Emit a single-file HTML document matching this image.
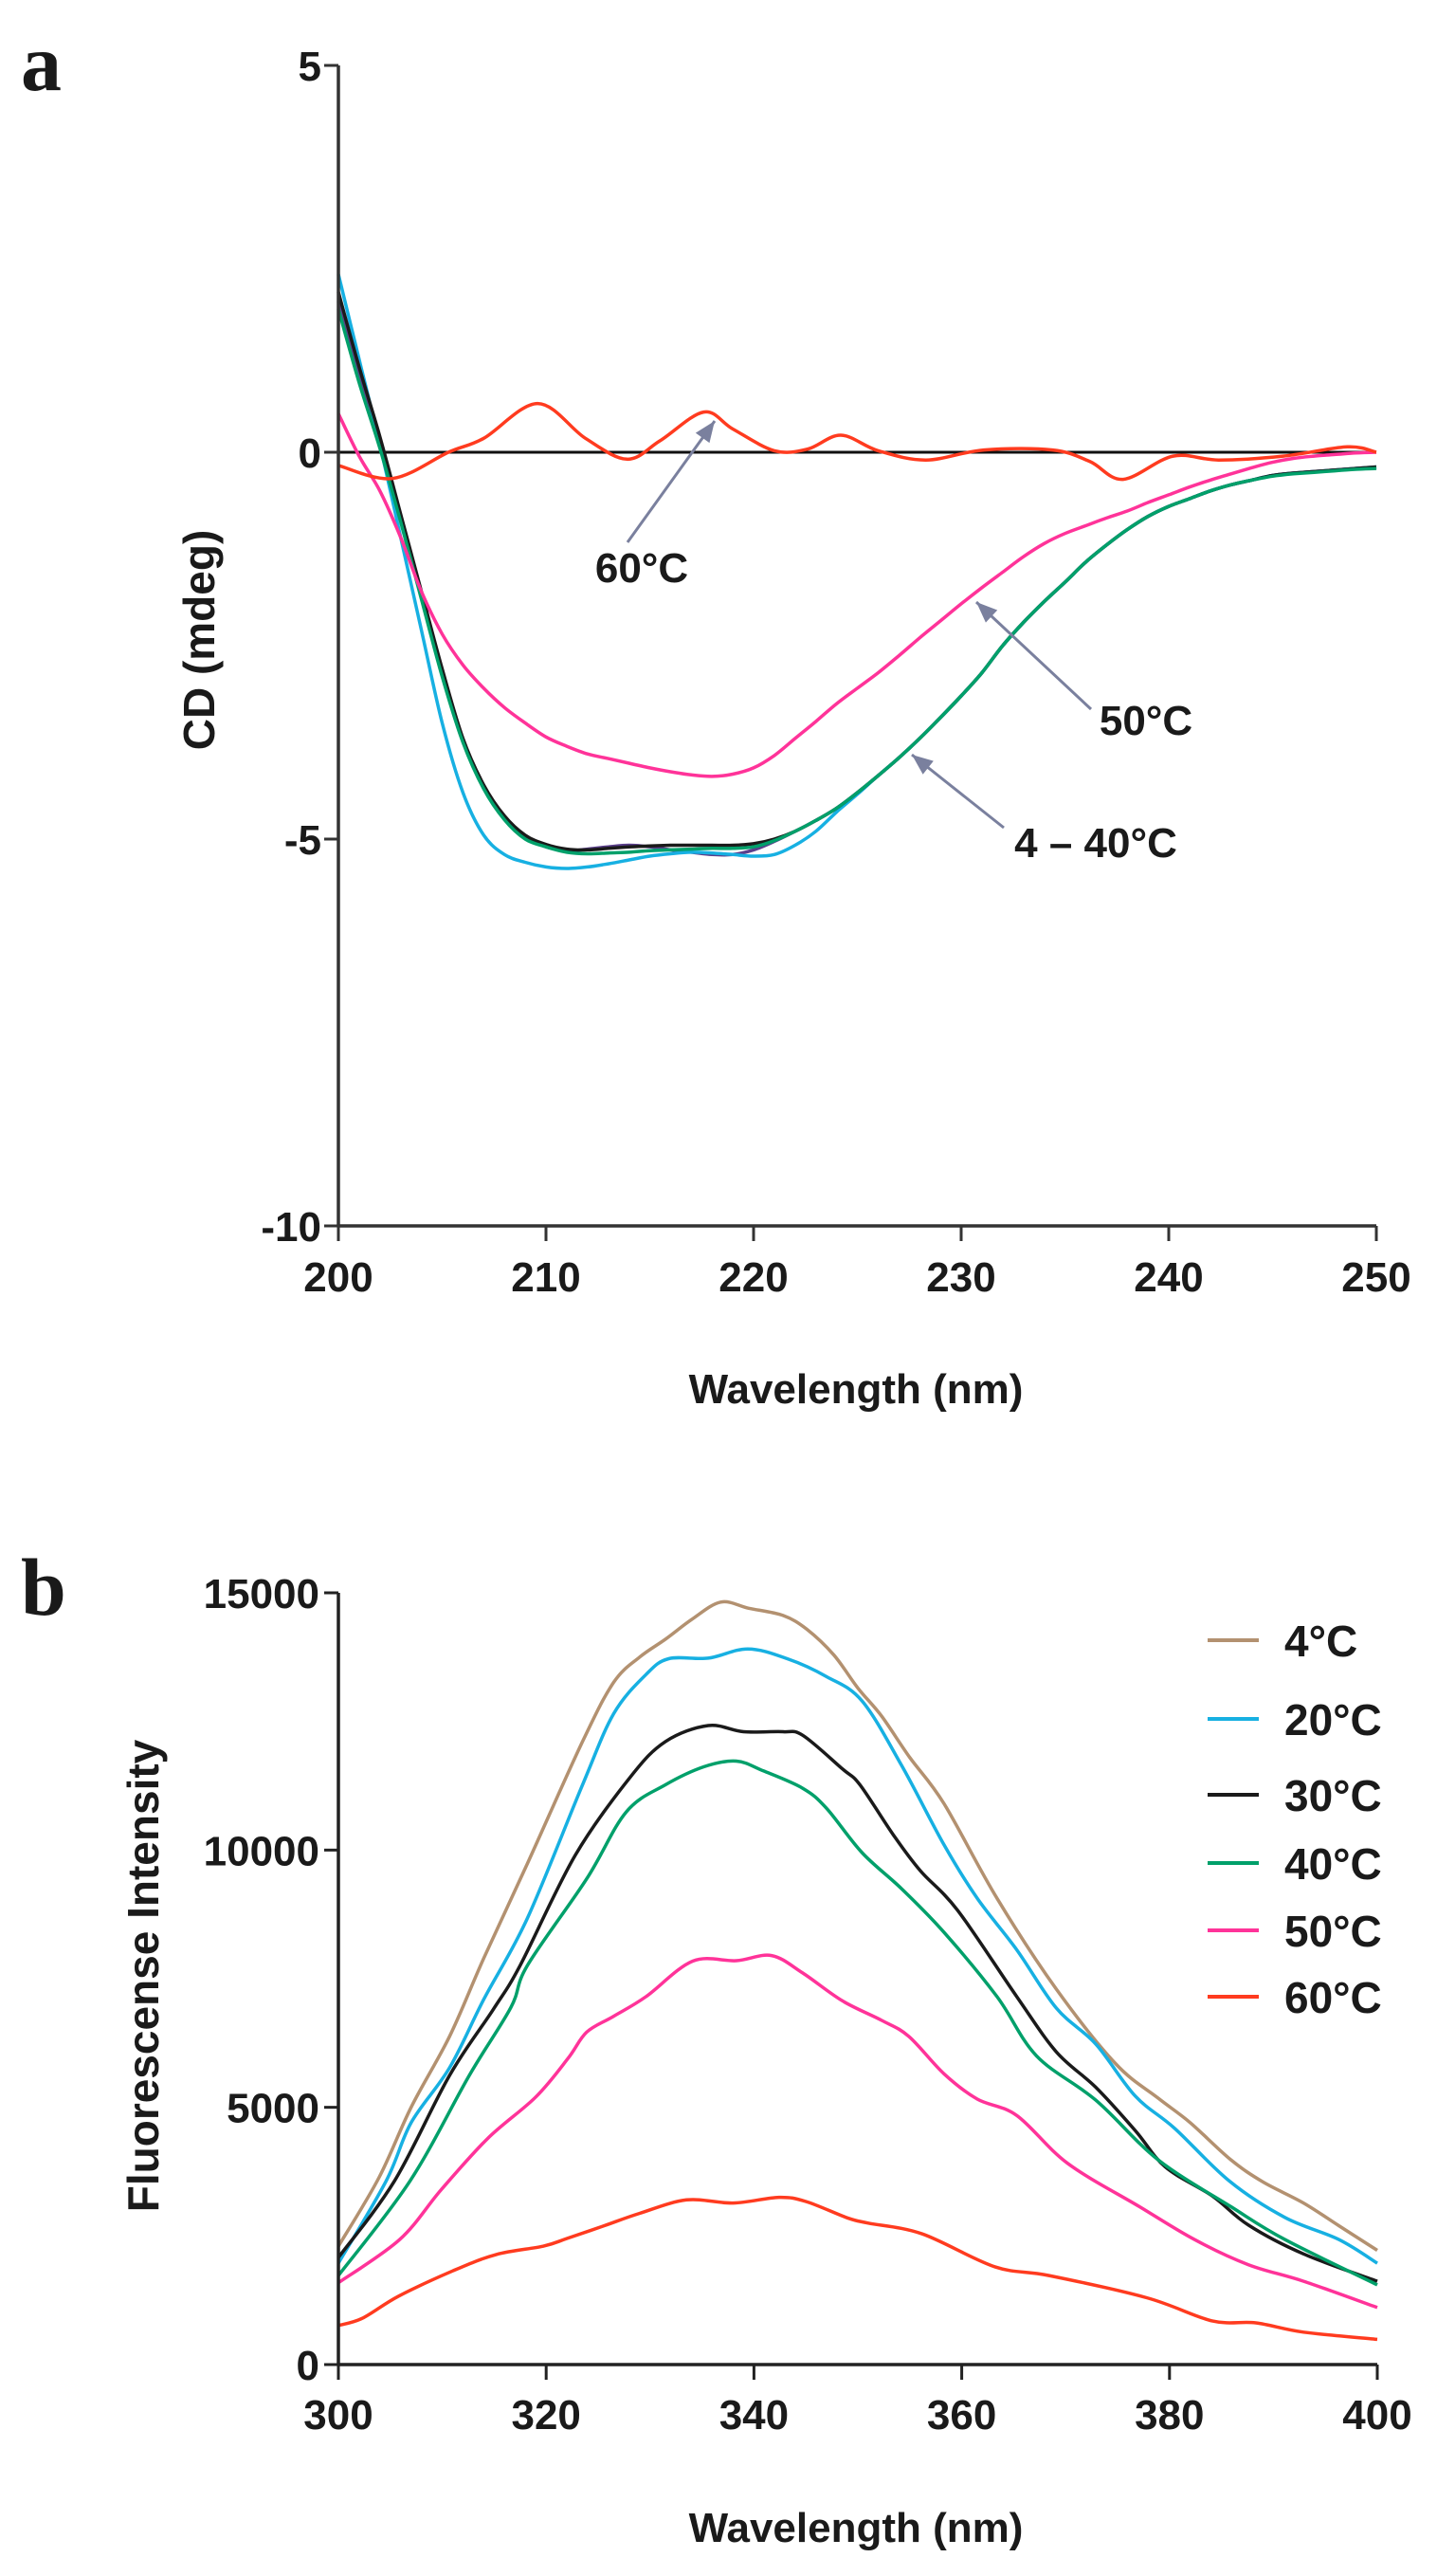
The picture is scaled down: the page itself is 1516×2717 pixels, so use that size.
<!DOCTYPE html>
<html><head><meta charset="utf-8"><style>
html,body{margin:0;padding:0;background:#fff;}
svg{display:block;}
text{font-family:"Liberation Sans",Arial,sans-serif;font-weight:bold;fill:#1a1a1a;}
</style></head><body>
<svg id="fig" width="1516" height="2717" viewBox="0 0 1516 2717" xmlns="http://www.w3.org/2000/svg">
<text x="22" y="95" style="font-family:'Liberation Serif',serif;font-size:86px;">a</text>
<text x="22" y="1703" style="font-family:'Liberation Serif',serif;font-size:86px;">b</text>
<g id="pa"></g>
<g id="pb"></g>
</svg>
<script>
// ---------- Panel a data ----------
const cdNm = [200,201,202,203,204,205,206,207,208,209,210,211,212,213,214,215,216,217,218,219,220,221,222,223,224,225,226,227,228,229,230,231,232,233,234,235,236,237,238,239,240,241,242,243,244,245,246,247,248,249,250];
const cd30 = [2.07,1.1,0.2,-0.8,-1.8,-2.8,-3.7,-4.3,-4.7,-4.95,-5.07,-5.13,-5.14,-5.12,-5.1,-5.09,-5.08,-5.08,-5.08,-5.08,-5.06,-5.0,-4.9,-4.76,-4.6,-4.4,-4.18,-3.95,-3.7,-3.43,-3.15,-2.85,-2.5,-2.2,-1.93,-1.68,-1.42,-1.2,-1.0,-0.83,-0.7,-0.6,-0.5,-0.42,-0.36,-0.3,-0.27,-0.25,-0.23,-0.21,-0.19];
const cd40 = [1.85,0.9,0.05,-0.9,-1.9,-2.9,-3.75,-4.35,-4.75,-5.0,-5.1,-5.17,-5.19,-5.18,-5.17,-5.15,-5.14,-5.13,-5.12,-5.12,-5.1,-5.02,-4.9,-4.76,-4.6,-4.4,-4.18,-3.95,-3.7,-3.43,-3.15,-2.85,-2.5,-2.2,-1.93,-1.68,-1.42,-1.2,-1.0,-0.83,-0.7,-0.6,-0.5,-0.42,-0.36,-0.31,-0.28,-0.26,-0.24,-0.22,-0.21];
const cd4 = [1.95,1.0,0.1,-0.85,-1.85,-2.85,-3.72,-4.32,-4.72,-4.97,-5.1,-5.15,-5.13,-5.1,-5.08,-5.1,-5.14,-5.17,-5.2,-5.2,-5.14,-5.03,-4.9,-4.76,-4.6,-4.4,-4.18,-3.95,-3.7,-3.43,-3.15,-2.85,-2.5,-2.2,-1.93,-1.68,-1.42,-1.2,-1.0,-0.83,-0.7,-0.6,-0.5,-0.42,-0.36,-0.3,-0.27,-0.25,-0.23,-0.21,-0.2];
const cd20 = [2.3,1.2,0.1,-1.1,-2.3,-3.5,-4.4,-4.95,-5.2,-5.3,-5.36,-5.38,-5.36,-5.32,-5.27,-5.22,-5.19,-5.17,-5.18,-5.2,-5.22,-5.2,-5.08,-4.9,-4.65,-4.42,-4.18,-3.95,-3.7,-3.43,-3.15,-2.85,-2.5,-2.2,-1.93,-1.68,-1.42,-1.2,-1.0,-0.83,-0.7,-0.6,-0.5,-0.42,-0.36,-0.3,-0.27,-0.25,-0.23,-0.21,-0.19];
const cd50 = [0.5,-0.05,-0.5,-1.1,-1.8,-2.35,-2.75,-3.05,-3.3,-3.5,-3.68,-3.8,-3.9,-3.96,-4.02,-4.08,-4.13,-4.17,-4.19,-4.16,-4.08,-3.92,-3.7,-3.48,-3.25,-3.05,-2.85,-2.63,-2.4,-2.18,-1.96,-1.75,-1.55,-1.35,-1.18,-1.05,-0.95,-0.85,-0.76,-0.65,-0.55,-0.45,-0.36,-0.28,-0.2,-0.13,-0.08,-0.05,-0.03,-0.01,0.0];
const cd60Nm = [200,202.6,205.3,207,209.6,211.9,213.9,215.5,217.6,219,221,222.6,224.2,226,228.3,231.1,234.4,236.2,237.8,240.2,242.4,245.5,248.6,250];
const cd60 = [-0.17,-0.34,0,0.18,0.63,0.18,-0.09,0.15,0.52,0.3,0.02,0.04,0.22,0.02,-0.1,0.03,0.03,-0.12,-0.35,-0.05,-0.1,-0.05,0.07,0.0];
const cdYTicks = [5,0,-5,-10];
const cdXTicks = [200,210,220,230,240,250];

// ---------- Panel b data ----------
const fl4Nm = [300,303.9,307,310.7,314,318.2,323.5,326.5,329,331.5,334,336.8,339.5,342.8,345.1,347.7,350,352.3,355,358.3,363.4,369.1,374.8,378.9,382,385.9,389,392.9,396.3,400];
const fl4 = [2300,3630,5000,6380,7900,9740,12110,13260,13750,14100,14480,14820,14700,14560,14290,13790,13150,12600,11800,10900,9060,7300,5850,5180,4700,3980,3550,3140,2700,2220];
const fl20Nm = [300,304.6,307,310.7,314,318.2,323.5,326.5,329.6,331.8,335.6,339.4,343.2,347,350.4,354.2,358.3,361.5,365.3,369.1,372.9,376.7,380.5,385.8,391.1,396.3,400];
const fl20 = [1970,3570,4700,5770,7100,8680,11270,12650,13410,13720,13730,13910,13720,13370,12900,11650,10100,9060,8060,6930,6230,5220,4590,3560,2860,2430,1970];
const fl30Nm = [300,305.4,310.7,314.9,317.5,322.8,328.1,331.5,335.6,339,342.8,344.7,348.5,350.2,353.4,356,359.6,365.3,369.1,372.9,376.7,379.6,384.1,387.6,392.9,400];
const fl30 = [2080,3570,5620,6900,7760,9900,11420,12110,12420,12300,12300,12230,11580,11270,10300,9600,8830,7150,6080,5390,4550,3840,3280,2710,2150,1620];
const fl40Nm = [300,306.9,312.6,316.6,318.2,323.9,327.7,331.5,335.2,338.3,340.9,344.7,347,350.4,354.2,358.3,363.4,367.2,372.9,378.9,385.9,391.1,400];
const fl40 = [1730,3570,5620,6940,7760,9440,10740,11270,11620,11730,11540,11200,10810,9950,9250,8400,7150,6000,5140,3980,3070,2430,1550];
const fl50Nm = [300,305.9,309.9,314.4,319,322.1,323.9,326.5,329.6,334.1,338.3,341.7,344.7,348.5,352.3,354.9,358.3,361.5,365.3,370.2,377.1,382.4,387.6,392.9,400];
const fl50 = [1590,2430,3400,4400,5200,5950,6460,6770,7150,7840,7850,7950,7610,7070,6690,6380,5650,5160,4840,3910,3070,2430,1940,1620,1110];
const fl60Nm = [300,302.3,305.8,311,315.2,319.7,322,325.6,329,333.5,338,342.4,345,349,351,356.2,363.2,368.4,377.8,384.1,388.3,392.9,400];
const fl60 = [760,900,1330,1820,2140,2300,2450,2700,2940,3200,3140,3250,3170,2850,2750,2540,1900,1730,1300,850,810,630,490];
const flYTicks = [15000,10000,5000,0];
const flXTicks = [300,320,340,360,380,400];
const legendLabels = ["4°C","20°C","30°C","40°C","50°C","60°C"];

const NS = "http://www.w3.org/2000/svg";
function mk(parent, tag, attrs, txt){
  const e = document.createElementNS(NS, tag);
  for (const k in attrs) e.setAttribute(k, attrs[k]);
  if (txt !== undefined) e.textContent = txt;
  parent.appendChild(e);
  return e;
}
function smoothPath(xs, ys){
  let d = "M" + xs[0].toFixed(1) + "," + ys[0].toFixed(1);
  for (let i = 0; i < xs.length - 1; i++){
    const x0 = xs[Math.max(i-1,0)], y0 = ys[Math.max(i-1,0)];
    const x1 = xs[i], y1 = ys[i], x2 = xs[i+1], y2 = ys[i+1];
    const x3 = xs[Math.min(i+2,xs.length-1)], y3 = ys[Math.min(i+2,xs.length-1)];
    const c1x = x1 + (x2-x0)/6, c1y = y1 + (y2-y0)/6;
    const c2x = x2 - (x3-x1)/6, c2y = y2 - (y3-y1)/6;
    d += " C" + c1x.toFixed(1) + "," + c1y.toFixed(1) + " " + c2x.toFixed(1) + "," + c2y.toFixed(1) + " " + x2.toFixed(1) + "," + y2.toFixed(1);
  }
  return d;
}

// ---------- Panel a ----------
(function(){
  const g = document.getElementById("pa");
  const X0 = 357, X1 = 1452, Yt = 69, Yb = 1293;
  const xS = v => X0 + (v - 200) / 50 * (X1 - X0);
  const yS = v => Yt + (5 - v) / 15 * (Yb - Yt);
  // zero line
  const z = mk(g, "line", {x1:X0, x2:X1, y1:yS(0), y2:yS(0), stroke:"#111", "stroke-width":3});
  
  
  const series = [
    {name:"cd-4c", ys:cd4, xs:cdNm, c:"#5b3f8c"},
    {name:"cd-20c", ys:cd20, xs:cdNm, c:"#17b0e2"},
    {name:"cd-30c", ys:cd30, xs:cdNm, c:"#1a1a1a"},
    {name:"cd-40c", ys:cd40, xs:cdNm, c:"#00a06a"},
    {name:"cd-50c", ys:cd50, xs:cdNm, c:"#ff3399"},
    {name:"cd-60c", ys:cd60, xs:cd60Nm, c:"#ff3b1f"}
  ];
  series.forEach(s => {
    const p = mk(g, "path", {d:smoothPath(s.xs.map(xS), s.ys.map(yS)), fill:"none", stroke:s.c, "stroke-width":3.5, "stroke-linejoin":"round"});
    
    
  });
  // axes
  const ya = mk(g, "line", {x1:X0, x2:X0, y1:Yt, y2:Yb, stroke:"#333", "stroke-width":3.5});
  
  
  const xa = mk(g, "line", {x1:X0, x2:X1, y1:Yb, y2:Yb, stroke:"#333", "stroke-width":3.5});
  
  
  cdYTicks.forEach(t => {
    const tk = mk(g, "line", {x1:X0-15, x2:X0, y1:yS(t), y2:yS(t), stroke:"#333", "stroke-width":3});
    
    
    const lb = mk(g, "text", {x:X0-18, y:yS(t)+16, "text-anchor":"end", "font-size":44}, String(t));
    
    
  });
  cdXTicks.forEach(t => {
    const tk = mk(g, "line", {x1:xS(t), x2:xS(t), y1:Yb, y2:Yb+16, stroke:"#333", "stroke-width":3});
    
    
    const lb = mk(g, "text", {x:xS(t), y:1362, "text-anchor":"middle", "font-size":44}, String(t));
    
    
  });
  const xt = mk(g, "text", {x:903, y:1480, "text-anchor":"middle", "font-size":44}, "Wavelength (nm)");
  
  
  const yt = mk(g, "text", {x:0, y:0, "text-anchor":"middle", "font-size":46, transform:"translate(226,675) rotate(-90)"}, "CD (mdeg)");
  
  
  // annotations
  const ann = [
    {t:"60°C", tx:677, ty:614, a:[662,572,754,444], n:"annotation-60c"},
    {t:"50°C", tx:1209, ty:775, a:[1151,748,1030,635], n:"annotation-50c"},
    {t:"4 – 40°C", tx:1156, ty:904, a:[1059,873,962,796], n:"annotation-4-40c"}
  ];
  ann.forEach(o => {
    const [x1,y1,x2,y2] = o.a;
    const ln = mk(g, "line", {x1:x1, y1:y1, x2:x2, y2:y2, stroke:"#7a809e", "stroke-width":3});
    
    
    const ang = Math.atan2(y2-y1, x2-x1), L = 22, W = 9;
    const bx = x2 - L*Math.cos(ang), by = y2 - L*Math.sin(ang);
    const px = -Math.sin(ang)*W, py = Math.cos(ang)*W;
    const hd = mk(g, "polygon", {points:`${x2},${y2} ${bx+px},${by+py} ${bx-px},${by-py}`, fill:"#7a809e"});
    
    
    const tx = mk(g, "text", {x:o.tx, y:o.ty, "text-anchor":"middle", "font-size":44}, o.t);
    
    
  });
})();

// ---------- Panel b ----------
(function(){
  const g = document.getElementById("pb");
  const X0 = 357, X1 = 1453, Yt = 1680, Yb = 2494;
  const xS = v => X0 + (v - 300) / 100 * (X1 - X0);
  const yS = v => Yb - v / 15000 * (Yb - Yt);
  const colors = ["#b39170","#17b0e2","#1a1a1a","#00a06a","#ff3399","#ff3b1f"];
  const xsArr = [fl4Nm, fl20Nm, fl30Nm, fl40Nm, fl50Nm, fl60Nm];
  const ysArr = [fl4, fl20, fl30, fl40, fl50, fl60];
  const names = ["fl-4c","fl-20c","fl-30c","fl-40c","fl-50c","fl-60c"];
  for (let i = 0; i < 6; i++){
    const p = mk(g, "path", {d:smoothPath(xsArr[i].map(xS), ysArr[i].map(yS)), fill:"none", stroke:colors[i], "stroke-width":3.5, "stroke-linejoin":"round"});
    
    
  }
  const ya = mk(g, "line", {x1:X0, x2:X0, y1:Yt, y2:Yb, stroke:"#222", "stroke-width":3.5});
  
  
  const xa = mk(g, "line", {x1:X0, x2:X1, y1:Yb, y2:Yb, stroke:"#222", "stroke-width":3.5});
  
  
  flYTicks.forEach(t => {
    const tk = mk(g, "line", {x1:X0-15, x2:X0, y1:yS(t), y2:yS(t), stroke:"#222", "stroke-width":3});
    
    
    const lb = mk(g, "text", {x:X0-20, y:yS(t)+16, "text-anchor":"end", "font-size":44}, String(t));
    
    
  });
  flXTicks.forEach(t => {
    const tk = mk(g, "line", {x1:xS(t), x2:xS(t), y1:Yb, y2:Yb+16, stroke:"#222", "stroke-width":3});
    
    
    const lb = mk(g, "text", {x:xS(t), y:2562, "text-anchor":"middle", "font-size":44}, String(t));
    
    
  });
  const xt = mk(g, "text", {x:903, y:2681, "text-anchor":"middle", "font-size":44}, "Wavelength (nm)");
  
  
  const yt = mk(g, "text", {x:0, y:0, "text-anchor":"middle", "font-size":46, transform:"translate(167,2084) rotate(-90)"}, "Fluorescense Intensity");
  
  
  const legY = [1730,1813,1893,1965,2036,2106];
  const lg = mk(g, "g", {});
  
  
  legendLabels.forEach((lab, i) => {
    const ln = mk(lg, "line", {x1:1274, x2:1328, y1:legY[i], y2:legY[i], stroke:colors[i], "stroke-width":4});
    
    
    const tx = mk(lg, "text", {x:1355, y:legY[i]+17, "font-size":46}, lab);
    
    
  });
})();
</script>
</body></html>
